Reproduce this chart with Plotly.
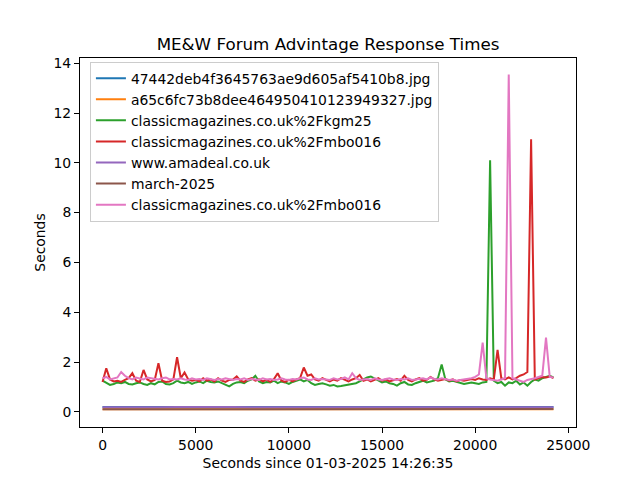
import plotly.graph_objects as go

# sampling grid (seconds since start) for the busy series
seconds = [
    0, 200, 400, 600, 800, 1000, 1200, 1400, 1600, 1800,
    2000, 2200, 2400, 2600, 2800, 3000, 3200, 3400, 3600, 3800,
    4000, 4200, 4400, 4600, 4800, 5000, 5200, 5400, 5600, 5800,
    6000, 6200, 6400, 6600, 6800, 7000, 7200, 7400, 7600, 7800,
    8000, 8200, 8400, 8600, 8800, 9000, 9200, 9400, 9600, 9800,
    10000, 10200, 10400, 10600, 10800, 11000, 11200, 11400, 11600, 11800,
    12000, 12200, 12400, 12600, 12800, 13000, 13200, 13400, 13600, 13800,
    14000, 14200, 14400, 14600, 14800, 15000, 15200, 15400, 15600, 15800,
    16000, 16200, 16400, 16600, 16800, 17000, 17200, 17400, 17600, 17800,
    18000, 18200, 18400, 18600, 18800, 19000, 19200, 19400, 19600, 19800,
    20000, 20200, 20400, 20600, 20800, 21000, 21200, 21400, 21600, 21800,
    22000, 22200, 22400, 22600, 22800, 23000, 23200, 23400, 23600, 23800,
    24000, 24200,
]

# coarser grid for the nearly flat series
seconds_flat = [0, 1000, 2000, 3000, 4000, 5000, 6000, 7000, 8000, 9000,
                10000, 11000, 12000, 13000, 14000, 15000, 16000, 17000, 18000, 19000,
                20000, 21000, 22000, 23000, 24000, 24200]

names = [
    "47442deb4f3645763ae9d605af5410b8.jpg",
    "a65c6fc73b8dee464950410123949327.jpg",
    "classicmagazines.co.uk%2Fkgm25",
    "classicmagazines.co.uk%2Fmbo016",
    "www.amadeal.co.uk",
    "march-2025",
    "classicmagazines.co.uk%2Fmbo016",
]

s_47442 = [0.19, 0.19, 0.18, 0.19, 0.18, 0.18, 0.19, 0.18, 0.19, 0.18, 0.18, 0.19, 0.18,
           0.19, 0.18, 0.18, 0.19, 0.18, 0.18, 0.19, 0.18, 0.18, 0.19, 0.18, 0.18, 0.19]
s_a65c = [0.10, 0.10, 0.09, 0.10, 0.10, 0.09, 0.10, 0.10, 0.09, 0.10, 0.10, 0.09, 0.10,
          0.10, 0.09, 0.10, 0.10, 0.09, 0.10, 0.10, 0.09, 0.10, 0.10, 0.09, 0.10, 0.10]

s_kgm25 = [
    1.25, 1.15, 1.08, 1.12, 1.18, 1.15, 1.20, 1.12, 1.10, 1.15,
    1.18, 1.12, 1.08, 1.15, 1.10, 1.20, 1.22, 1.12, 1.10, 1.15,
    1.25, 1.18, 1.15, 1.20, 1.12, 1.18, 1.22, 1.15, 1.25, 1.20,
    1.18, 1.22, 1.15, 1.10, 1.02, 1.12, 1.18, 1.20, 1.15, 1.25,
    1.30, 1.45, 1.22, 1.15, 1.20, 1.18, 1.25, 1.15, 1.22, 1.18,
    1.12, 1.20, 1.25, 1.30, 1.22, 1.28, 1.15, 1.08, 1.12, 1.15,
    1.10, 1.05, 1.08, 1.02, 1.04, 1.06, 1.10, 1.12, 1.15, 1.22,
    1.30, 1.38, 1.42, 1.35, 1.25, 1.18, 1.22, 1.15, 1.12, 1.05,
    1.15, 1.20, 1.10, 1.08, 1.15, 1.20, 1.25, 1.18, 1.22, 1.25,
    1.35, 1.90, 1.30, 1.22, 1.25, 1.20, 1.15, 1.12, 1.15, 1.18,
    1.15, 1.12, 1.18, 1.20, 10.10, 1.25, 1.15, 1.20, 1.05, 1.18,
    1.15, 1.25, 1.10, 1.18, 1.05, 1.20, 1.30, 1.25, 1.35, 1.40,
    1.45, 1.38,
]

s_mbo016 = [
    1.20, 1.75, 1.30, 1.22, 1.25, 1.20, 1.28, 1.35, 1.55, 1.25,
    1.20, 1.68, 1.30, 1.22, 1.28, 1.95, 1.25, 1.20, 1.22, 1.30,
    2.19, 1.35, 1.58, 1.30, 1.25, 1.28, 1.22, 1.35, 1.25, 1.30,
    1.22, 1.35, 1.25, 1.20, 1.28, 1.30, 1.42, 1.25, 1.20, 1.30,
    1.35, 1.25, 1.30, 1.22, 1.28, 1.20, 1.32, 1.55, 1.25, 1.20,
    1.28, 1.22, 1.30, 1.35, 1.78, 1.45, 1.50, 1.30, 1.25, 1.35,
    1.28, 1.22, 1.30, 1.25, 1.35, 1.28, 1.22, 1.30, 1.35, 1.48,
    1.25, 1.30, 1.22, 1.28, 1.35, 1.25, 1.30, 1.22, 1.28, 1.32,
    1.25, 1.45, 1.28, 1.22, 1.30, 1.35, 1.25, 1.28, 1.40, 1.30,
    1.25, 1.28, 1.32, 1.25, 1.30, 1.22, 1.28, 1.25, 1.30, 1.32,
    1.28, 1.35, 1.30, 1.28, 1.35, 1.30, 2.49, 1.35, 1.30, 1.38,
    1.30, 1.35, 1.45, 1.50, 1.60, 10.95, 1.30, 1.35, 1.40, 1.38,
    1.42, 1.35,
]

s_amadeal = [0.18, 0.19, 0.18, 0.18, 0.19, 0.18, 0.18, 0.19, 0.18, 0.18, 0.19, 0.18, 0.18,
             0.21, 0.18, 0.18, 0.20, 0.18, 0.18, 0.19, 0.18, 0.18, 0.19, 0.18, 0.18, 0.18]
s_march = [0.10, 0.10, 0.09, 0.10, 0.10, 0.09, 0.10, 0.10, 0.09, 0.10, 0.10, 0.09, 0.10,
           0.10, 0.09, 0.10, 0.10, 0.09, 0.10, 0.10, 0.09, 0.10, 0.10, 0.09, 0.10, 0.11]

s_mbo016_b = [
    1.35, 1.40, 1.30, 1.35, 1.38, 1.60, 1.45, 1.35, 1.30, 1.38,
    1.35, 1.30, 1.38, 1.35, 1.32, 1.30, 1.35, 1.38, 1.30, 1.32,
    1.30, 1.35, 1.30, 1.28, 1.35, 1.30, 1.32, 1.28, 1.35, 1.30,
    1.28, 1.32, 1.30, 1.35, 1.30, 1.28, 1.32, 1.30, 1.35, 1.28,
    1.32, 1.30, 1.28, 1.35, 1.30, 1.32, 1.28, 1.30, 1.35, 1.30,
    1.28, 1.32, 1.30, 1.35, 1.38, 1.30, 1.28, 1.35, 1.30, 1.32,
    1.30, 1.28, 1.35, 1.30, 1.32, 1.38, 1.30, 1.55, 1.35, 1.28,
    1.30, 1.32, 1.28, 1.35, 1.30, 1.28, 1.32, 1.35, 1.30, 1.28,
    1.32, 1.30, 1.35, 1.28, 1.30, 1.32, 1.35, 1.30, 1.38, 1.32,
    1.30, 1.35, 1.32, 1.28, 1.30, 1.25, 1.28, 1.30, 1.32, 1.35,
    1.40, 1.50, 2.78, 1.35, 1.30, 1.28, 1.25, 1.30, 1.35, 13.55,
    1.35, 1.30, 1.25, 1.20, 1.28, 1.30, 1.35, 1.40, 1.45, 2.98,
    1.40, 1.38,
]

colors = ["#1f77b4", "#ff7f0e", "#2ca02c", "#d62728", "#9467bd", "#8c564b", "#e377c2"]
series = [
    (seconds_flat, s_47442),
    (seconds_flat, s_a65c),
    (seconds, s_kgm25),
    (seconds, s_mbo016),
    (seconds_flat, s_amadeal),
    (seconds_flat, s_march),
    (seconds, s_mbo016_b),
]

FONT = "DejaVu Sans"
fig = go.Figure()
for name, color, (xs, ys) in zip(names, colors, series):
    fig.add_trace(go.Scatter(x=xs, y=ys, mode="lines", name=name,
                             line=dict(color=color, width=2)))

axis_common = dict(
    showgrid=False, zeroline=False, showline=True, linecolor="black", linewidth=1,
    mirror=True, ticks="outside", ticklen=5, tickwidth=1, tickcolor="black",
    tickfont=dict(family=FONT, size=13.9, color="black"),
)

fig.update_layout(
    width=640, height=480,
    margin=dict(l=80, r=64, t=58, b=53),
    paper_bgcolor="white", plot_bgcolor="white",
    font=dict(family=FONT, color="black"),
    title=dict(text="ME&W Forum Advintage Response Times", x=0.5125, xanchor="center",
               y=1 - 44 / 480, yanchor="middle", yref="container",
               font=dict(family=FONT, size=16.7, color="black")),
    xaxis=dict(range=[-1210, 25410], tick0=0, dtick=5000, tickformat="d",
               title=dict(text="Seconds since 01-03-2025 14:26:35", standoff=6,
                          font=dict(family=FONT, size=13.9, color="black")),
               **axis_common),
    yaxis=dict(range=[-0.61, 14.21], tick0=0, dtick=2, tickformat="d",
               title=dict(text="Seconds", standoff=4,
                          font=dict(family=FONT, size=13.9, color="black")),
               **axis_common),
    legend=dict(x=0.02, y=0.99, xanchor="left", yanchor="top",
                bgcolor="rgba(255,255,255,0.8)", bordercolor="#cccccc", borderwidth=1,
                font=dict(family=FONT, size=13.9, color="black")),
    showlegend=True,
)

fig.write_html("out.html")
